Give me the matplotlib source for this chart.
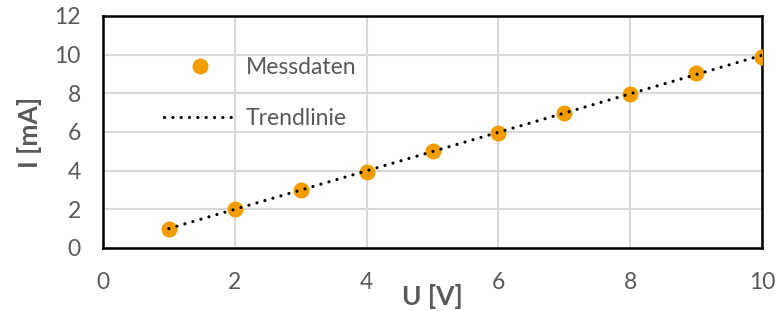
import numpy as np
import matplotlib
matplotlib.use("Agg")
import matplotlib.pyplot as plt

# Messdaten: Spannung U [V], Strom I [mA]
U = [1, 2, 3, 4, 5, 6, 7, 8, 9, 10]
I = [1.0, 2.0, 3.0, 3.95, 5.03, 5.97, 7.0, 7.97, 9.04, 9.9]
XTICKS = [0, 2, 4, 6, 8, 10]
YTICKS = [0, 2, 4, 6, 8, 10, 12]

GREY = "#595959"
ORANGE = "#F39C00"
FS = 16.5
FS_LABEL = 19

plt.rcParams["font.family"] = ["Lato", "DejaVu Sans"]

fig = plt.figure(figsize=(7.8, 3.11), dpi=100)
ax = fig.add_axes([0.132, 0.2026, 0.845, 0.746])

# linear trend from the data
m, b = np.polyfit(U, I, 1)
xt = np.array([min(U), max(U)])

ax.plot(U, I, "o", color=ORANGE, ms=11.5, mec="none", label="Messdaten", zorder=3)
ax.plot(xt, m * xt + b, color="black", lw=2.3, dashes=(0.01, 2.6),
        dash_capstyle="round", label="Trendlinie", zorder=4)

ax.set_xlim(0, 10)
ax.set_ylim(0, 12)
ax.set_xticks(XTICKS)
ax.set_yticks(YTICKS)
ax.grid(True, color="#d9d9d9", lw=1.5)
ax.set_axisbelow(True)
for s in ax.spines.values():
    s.set_color("black")
    s.set_linewidth(1.8)
ax.tick_params(length=0, labelsize=FS, labelcolor=GREY)
ax.tick_params(axis="x", pad=17)
ax.tick_params(axis="y", pad=16)

ax.set_xlabel("U [V]", fontsize=FS_LABEL, fontweight="bold", color=GREY, labelpad=-6)
ax.set_ylabel("I [mA]", fontsize=FS_LABEL, fontweight="bold", color=GREY, labelpad=9)

ax.legend(loc="upper left", bbox_to_anchor=(0.062, 0.91), frameon=False,
          fontsize=FS, labelcolor=GREY, handlelength=3.1, handletextpad=0.45,
          labelspacing=1.3, markerscale=1.0)

fig.savefig("out.png", dpi=100)
